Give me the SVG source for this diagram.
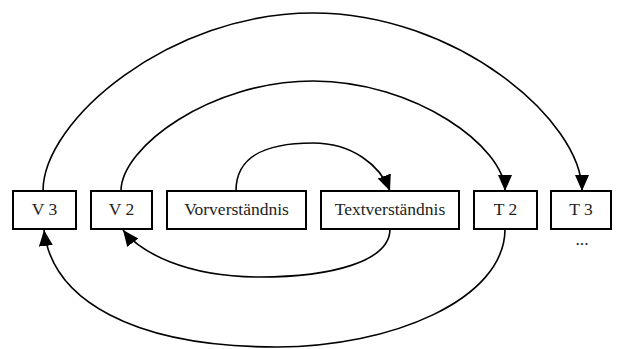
<svg xmlns="http://www.w3.org/2000/svg" width="618" height="349" viewBox="0 0 618 349">
<style>
.box{fill:#fff;stroke:#000;stroke-width:2}
.lbl{font-size:17.5px;fill:#222;text-anchor:middle}
.edge{fill:none;stroke:#000;stroke-width:1.6}
</style>
<defs>
<marker id="arr" markerUnits="userSpaceOnUse" markerWidth="17" markerHeight="15" refX="16" refY="7" orient="auto">
<path d="M0,0 L16,7 L0,14 z" fill="#000"/>
</marker>
</defs>
<rect width="618" height="349" fill="#fff"/>
<g id="connectors">
<path class="edge" marker-end="url(#arr)" d="M43,191 C43,120 170,13 313,13 C456,13 582,120 582,191"/>
<path class="edge" marker-end="url(#arr)" d="M121,191 C121,147 211,81 313,81 C415,81 505,147 505,191"/>
<path class="edge" marker-end="url(#arr)" d="M236,191 C236,158 262,143 313,143 C352,143 380,165 390,191"/>
<path class="edge" marker-end="url(#arr)" d="M390,229 C390,262 330,277 260,277 C185,277 140,252 123,230"/>
<path class="edge" marker-end="url(#arr)" d="M505,229 C505,300 390,347 277,347 C133,347 52,300 44,230"/>
</g>
<g font-family="Liberation Serif, Times New Roman, serif">
<g id="V3"><rect class="box" x="13" y="191" width="63" height="38"/><text class="lbl" x="44.5" y="215">V 3</text></g>
<g id="V2"><rect class="box" x="91" y="191" width="61" height="38"/><text class="lbl" x="121.5" y="215">V 2</text></g>
<g id="Vorverstaendnis"><rect class="box" x="167" y="191" width="139" height="38"/><text class="lbl" x="236.5" y="215">Vorverständnis</text></g>
<g id="Textverstaendnis"><rect class="box" x="321" y="191" width="138" height="38"/><text class="lbl" x="390" y="215">Textverständnis</text></g>
<g id="T2"><rect class="box" x="474" y="191" width="63" height="38"/><text class="lbl" x="505.5" y="215">T 2</text></g>
<g id="T3"><rect class="box" x="551" y="191" width="60" height="38"/><text class="lbl" x="581" y="215">T 3</text><text class="lbl" x="582" y="245">...</text></g>
</g>
</svg>
